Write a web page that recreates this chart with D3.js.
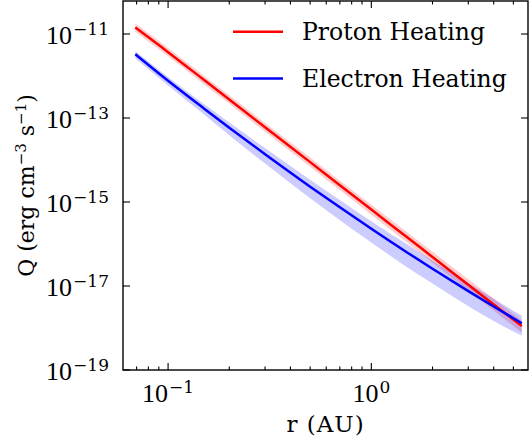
<!DOCTYPE html>
<html>
<head>
<meta charset="utf-8">
<script src="https://cdn.jsdelivr.net/npm/d3@7"></script>
<style>
  body { margin: 0; background: #fff; }
  svg { display: block; }
</style>
</head>
<body>
<div id="chart"></div>
<script>
// r in AU
const r = [0.069, 0.1, 0.15, 0.2, 0.3, 0.5, 0.7, 1, 1.5, 2, 3, 4, 5.5];

const proton   = [1.42e-11, 3.7e-12, 8.1e-13, 2.75e-13, 6.0e-14, 8.9e-15, 2.5e-15, 6.6e-16, 1.44e-16, 4.9e-17, 1.07e-17, 3.64e-18, 1.11e-18];
const protonHi = [1.77e-11, 4.65e-12, 1.02e-12, 3.48e-13, 7.6e-14, 1.14e-14, 3.22e-15, 8.6e-16, 1.9e-16, 6.5e-17, 1.44e-17, 4.95e-18, 1.52e-18];
const protonLo = [1.13e-11, 2.94e-12, 6.4e-13, 2.17e-13, 4.7e-14, 6.9e-15, 1.92e-15, 5.0e-16, 1.08e-16, 3.6e-17, 7.8e-18, 2.6e-18, 7.7e-19];

const electron   = [3.3e-12, 7.7e-13, 1.69e-13, 5.87e-14, 1.37e-14, 2.32e-15, 7.46e-16, 2.31e-16, 6.3e-17, 2.58e-17, 7.56e-18, 3.24e-18, 1.3e-18];
const electronHi = [3.96e-12, 9.5e-13, 2.16e-13, 7.8e-14, 1.92e-14, 3.4e-15, 1.12e-15, 3.5e-16, 9.8e-17, 4.0e-17, 1.18e-17, 5.0e-18, 1.95e-18];
const electronLo = [2.64e-12, 5.9e-13, 1.22e-13, 3.9e-14, 8.2e-15, 1.23e-15, 3.7e-16, 1.09e-16, 2.8e-17, 1.14e-17, 3.3e-18, 1.46e-18, 6.5e-19];

const seriesNames = ['Proton Heating', 'Electron Heating'];
const yMajor = [1e-19, 1e-17, 1e-15, 1e-13, 1e-11];
const yExp = ['\u221219', '\u221217', '\u221215', '\u221213', '\u221211'];
const xMajor = [0.1, 1];
const xExp = ['\u22121', '0'];
const xMinor = [0.07, 0.08, 0.09, 0.2, 0.3, 0.4, 0.5, 0.6, 0.7, 0.8, 0.9, 2, 3, 4, 5];

const width = 530, height = 446;
const pLeft = 123, pRight = 528, pTop = 1, pBottom = 370;
const serif = 'Liberation Serif, serif';
const dserif = 'DejaVu Serif, serif';

const x = d3.scaleLog().domain([0.06, 5.9]).range([pLeft, pRight]);
const y = d3.scaleLog().domain([1e-19, Math.pow(10, -19 + (pBottom - pTop) / 42)]).range([pBottom, pTop]);

const svg = d3.select('#chart').append('svg')
  .attr('width', width).attr('height', height);

svg.append('clipPath').attr('id', 'clip')
  .append('rect').attr('x', pLeft).attr('y', pTop).attr('width', pRight - pLeft).attr('height', pBottom - pTop);

const area = (hi, lo) => d3.area()
  .x((d, i) => x(r[i]))
  .y0((d, i) => y(lo[i]))
  .y1((d, i) => y(hi[i]))
  .curve(d3.curveMonotoneX);
const line = vals => d3.line()
  .x((d, i) => x(r[i]))
  .y((d, i) => y(vals[i]))
  .curve(d3.curveMonotoneX);

const inner = svg.append('g').attr('clip-path', 'url(#clip)');
inner.append('path').datum(r).attr('d', area(protonHi, protonLo)).attr('fill', '#ff0000').attr('fill-opacity', 0.2);
inner.append('path').datum(r).attr('d', area(electronHi, electronLo)).attr('fill', '#0000ff').attr('fill-opacity', 0.2);
inner.append('path').datum(r).attr('d', line(proton)).attr('fill', 'none').attr('stroke', '#ff0000').attr('stroke-width', 2.5);
inner.append('path').datum(r).attr('d', line(electron)).attr('fill', 'none').attr('stroke', '#0000ff').attr('stroke-width', 2.5);

// ticks (inward, all four sides)
const tk = svg.append('g').attr('stroke', '#000').attr('stroke-width', 1.1);
yMajor.forEach(v => {
  tk.append('line').attr('x1', pLeft).attr('x2', pLeft + 7).attr('y1', y(v)).attr('y2', y(v));
  tk.append('line').attr('x1', pRight - 7).attr('x2', pRight).attr('y1', y(v)).attr('y2', y(v));
});
xMajor.forEach(v => {
  tk.append('line').attr('x1', x(v)).attr('x2', x(v)).attr('y1', pBottom).attr('y2', pBottom - 7);
  tk.append('line').attr('x1', x(v)).attr('x2', x(v)).attr('y1', pTop).attr('y2', pTop + 7);
});
xMinor.forEach(v => {
  tk.append('line').attr('x1', x(v)).attr('x2', x(v)).attr('y1', pBottom).attr('y2', pBottom - 3.5);
  tk.append('line').attr('x1', x(v)).attr('x2', x(v)).attr('y1', pTop).attr('y2', pTop + 3.5);
});

svg.append('rect')
  .attr('x', pLeft).attr('y', pTop).attr('width', pRight - pLeft).attr('height', pBottom - pTop)
  .attr('fill', 'none').attr('stroke', '#000').attr('stroke-width', 1.4);

// tick labels
yMajor.forEach((v, i) => {
  const t = svg.append('text').attr('x', 109).attr('y', y(v) + 10)
    .attr('text-anchor', 'end').attr('font-family', serif).attr('font-size', 26);
  t.append('tspan').text('10');
  t.append('tspan').attr('dx', 1).attr('dy', -9).attr('font-family', dserif).attr('font-size', 17).text(yExp[i]);
});
xMajor.forEach((v, i) => {
  const t = svg.append('text').attr('x', x(v)).attr('y', 402)
    .attr('text-anchor', 'middle').attr('font-family', serif).attr('font-size', 26);
  t.append('tspan').text('10');
  t.append('tspan').attr('dx', 1).attr('dy', -9).attr('font-family', dserif).attr('font-size', 17).text(xExp[i]);
});

// axis labels
svg.append('text').attr('x', (pLeft + pRight) / 2).attr('y', 432)
  .attr('text-anchor', 'middle').attr('font-family', dserif).attr('font-size', 23)
  .attr('letter-spacing', 1)
  .text('r (AU)');

const yl = svg.append('text')
  .attr('transform', `translate(34, ${(pTop + pBottom) / 2}) rotate(-90)`)
  .attr('text-anchor', 'middle').attr('font-family', dserif).attr('font-size', 22);
yl.append('tspan').text('Q (erg cm');
yl.append('tspan').attr('dy', -8).attr('font-size', 15).text('\u22123');
yl.append('tspan').attr('dy', 8).text(' s');
yl.append('tspan').attr('dy', -8).attr('font-size', 15).text('\u22121');
yl.append('tspan').attr('dy', 8).text(')');

// legend
const legendColors = ['#ff0000', '#0000ff'];
seriesNames.forEach((name, i) => {
  const ly = 31.7 + i * 46.7;
  svg.append('line').attr('x1', 233).attr('x2', 283).attr('y1', ly).attr('y2', ly)
    .attr('stroke', legendColors[i]).attr('stroke-width', 2.5);
  svg.append('text').attr('x', 302).attr('y', ly + 8.5)
    .attr('font-family', dserif).attr('font-size', 23.5)
    .text(name);
});
</script>
</body>
</html>
